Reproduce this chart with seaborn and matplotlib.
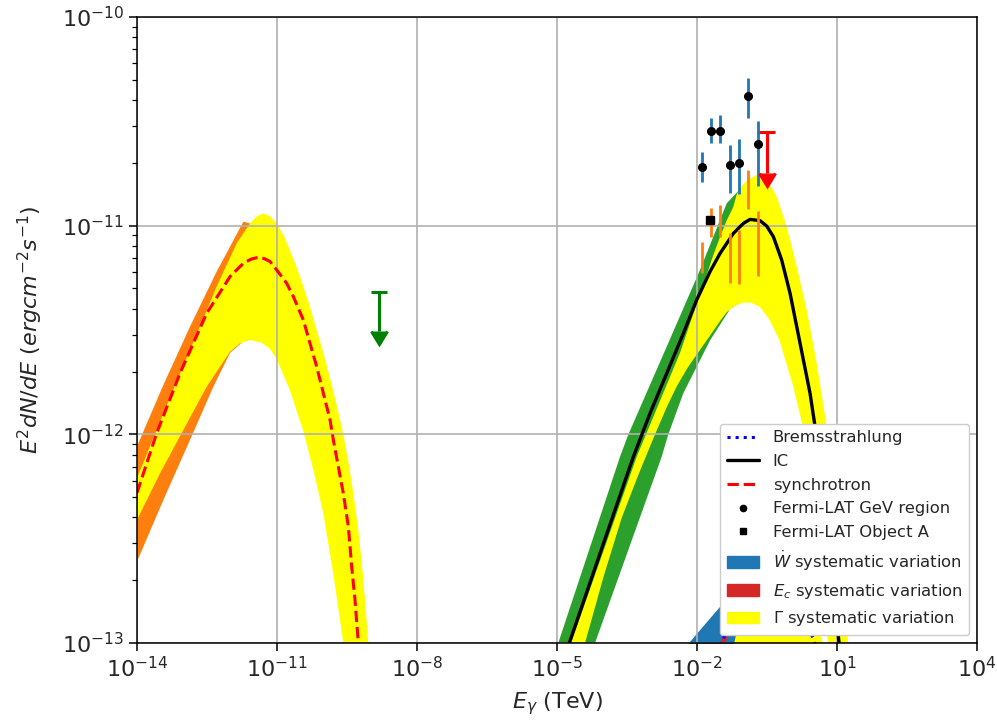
import numpy as np
import matplotlib
matplotlib.use("Agg")
import matplotlib.pyplot as plt
import seaborn as sns
from matplotlib.lines import Line2D
from matplotlib.patches import Patch

# ---------------- data: log10(E / TeV), log10(E^2 dN/dE / erg cm^-2 s^-1) ----------------
# synchrotron model line
sync_line_logE = [-14.0, -13.579, -13.079, -12.507, -12.007, -11.721, -11.55, -11.4, -11.27, -11.15,
                  -11.007, -10.793, -10.65, -10.436, -10.293, -10.15, -10.007, -9.864, -9.793, -9.686,
                  -9.579, -9.471, -9.4, -9.329, -9.257, -9.2]
sync_line_logF = [-12.28, -11.995, -11.708, -11.42, -11.244, -11.18, -11.16, -11.152, -11.158, -11.172,
                  -11.212, -11.276, -11.34, -11.452, -11.564, -11.676, -11.803, -11.931, -12.027, -12.155,
                  -12.283, -12.443, -12.634, -12.794, -13.0, -13.2]
# synchrotron Gamma band edges
sync_g_hi_logE = [-14.0, -13.436, -12.864, -12.293, -11.864, -11.579, -11.43, -11.293, -11.15, -11.007,
                  -10.85, -10.72, -10.579, -10.436, -10.293, -10.15, -10.007, -9.864, -9.72, -9.579,
                  -9.472, -9.365, -9.257, -9.186, -9.115, -9.043, -8.95]
sync_g_hi_logF = [-12.21, -11.899, -11.596, -11.292, -11.085, -10.989, -10.955, -10.941, -10.955, -10.989,
                  -11.05, -11.12, -11.2, -11.29, -11.39, -11.5, -11.61, -11.73, -11.86, -12.0,
                  -12.13, -12.28, -12.46, -12.61, -12.79, -13.0, -13.3]
sync_g_lo_logE = [-14.0, -13.507, -13.007, -12.507, -12.221, -12.007, -11.793, -11.579, -11.329, -11.15,
                  -11.007, -10.721, -10.436, -10.221, -10.007, -9.793, -9.579, -9.5]
sync_g_lo_logF = [-12.41, -12.187, -11.979, -11.772, -11.676, -11.604, -11.564, -11.548, -11.561, -11.59,
                  -11.64, -11.79, -11.985, -12.17, -12.38, -12.67, -13.0, -13.3]
# synchrotron W-dot band edges
sync_w_hi_logE = [-14.0, -13.436, -12.864, -12.293, -12.007, -11.721, -11.4, -11.2]
sync_w_hi_logF = [-12.058, -11.764, -11.484, -11.22, -11.101, -10.981, -11.0, -11.05]
sync_w_lo_logE = [-14.0, -13.436, -12.864, -12.364, -12.007, -11.6, -11.2]
sync_w_lo_logF = [-12.61, -12.315, -12.027, -11.772, -11.61, -11.53, -11.52]

# inverse-Compton model line
ic_line_logE = [-5.0, -4.737, -4.0, -3.364, -3.007, -2.65, -2.293, -2.007, -1.721, -1.507, -1.221,
                -1.007, -0.864, -0.65, -0.507, -0.364, -0.186, -0.007, 0.136, 0.279, 0.421, 0.529,
                0.786, 1.043, 1.15]
ic_line_logF = [-13.17, -13.0, -12.52, -12.107, -11.899, -11.708, -11.516, -11.356, -11.22, -11.133,
                -11.037, -10.989, -10.97, -10.976, -11.002, -11.053, -11.165, -11.324, -11.484, -11.644,
                -11.803, -11.963, -12.458, -13.0, -13.3]
# IC Gamma band edges
ic_g_hi_logE = [-5.0, -4.7, -4.0, -3.292, -2.8, -2.365, -2.0, -1.793, -1.65, -1.5, -1.364, -1.222,
                -1.15, -1.079, -0.936, -0.721, -0.507, -0.293, -0.079, 0.136, 0.35, 0.565, 0.779, 1.0,
                1.236, 1.35]
ic_g_hi_logF = [-13.2, -13.0, -12.556, -12.107, -11.843, -11.61, -11.37, -11.235, -11.14, -11.05, -10.975,
                -10.91, -10.85, -10.818, -10.785, -10.757, -10.781, -10.861, -11.005, -11.196, -11.404,
                -11.66, -11.963, -12.4, -13.0, -13.4]
ic_g_lo_logE = [-4.9, -4.4, -4.0, -3.614, -3.25, -2.9, -2.65, -2.435, -2.2, -1.936, -1.7, -1.5, -1.364,
                -1.2, -1.008, -0.83, -0.651, -0.45, -0.236, 0.063, 0.351, 0.807, 0.9]
ic_g_lo_logF = [-13.4, -13.0, -12.68, -12.4, -12.19, -12.0, -11.87, -11.77, -11.68, -11.595, -11.52,
                -11.455, -11.415, -11.385, -11.368, -11.37, -11.39, -11.45, -11.548, -11.772, -12.041,
                -13.0, -13.3]
# IC W-dot band edges
ic_w_hi_logE = [-5.25, -4.973, -3.65, -3.47, -2.65, -1.936, -1.364, -1.079, -0.9]
ic_w_hi_logF = [-13.17, -13.0, -12.107, -12.0, -11.58, -11.212, -10.893, -10.825, -10.8]
ic_w_lo_logE = [-5.25, -4.186, -2.757, -2.615, -2.294, -1.722, -1.293, -1.1, -0.9]
ic_w_lo_logF = [-13.75, -13.0, -12.107, -12.0, -11.803, -11.55, -11.4, -11.37, -11.36]

# Bremsstrahlung (mostly below the plotted range)
brem_logE = [-2.75, -2.5, -2.19, -2.0, -1.75, -1.5, -1.25, -1.0, -0.5, 0.0, 0.25, 0.5, 0.75, 1.0]
brem_line = [-14.02, -13.82, -13.52, -13.37, -13.19, -13.01, -12.89, -12.82, -12.76, -12.80, -12.88, -12.98, -13.22, -13.52]
brem_wdot_hi = [-13.35, -13.2, -13.0, -12.95, -12.885, -12.82, -12.76, -12.72, -12.70, -12.78, -12.88, -13.02, -13.2, -13.4]
brem_ec_hi = [-14.0, -13.8, -13.5, -13.35, -13.17, -12.99, -12.87, -12.80, -12.74, -12.78, -12.86, -12.96, -13.2, -13.5]
brem_ec_lo = [-14.05, -13.85, -13.55, -13.4, -13.22, -13.04, -12.92, -12.85, -12.79, -12.83, -12.91, -13.01, -13.25, -13.55]
brem_gamma_hi = [-15.0, -15.0, -15.0, -14.5, -14.0, -13.5, -13.03, -12.8, -12.7, -12.7, -12.75, -12.85, -13.05, -13.5]
brem_floor = -15.0

# Fermi-LAT points (E in TeV, flux in erg cm^-2 s^-1)
gev_logE = [-1.9, -1.7, -1.5, -1.3, -1.1, -0.9, -0.7]
gev_F = [1.90e-11, 2.85e-11, 2.85e-11, 1.96e-11, 2.00e-11, 4.18e-11, 2.45e-11]
gev_lo = [1.61e-11, 2.48e-11, 2.48e-11, 1.43e-11, 1.42e-11, 3.27e-11, 1.55e-11]
gev_hi = [2.26e-11, 3.29e-11, 3.39e-11, 2.44e-11, 2.59e-11, 5.10e-11, 3.18e-11]
objA_lo = [5.91e-12, 8.85e-12, 8.79e-12, 5.30e-12, 5.25e-12, 1.20e-11, 5.74e-12]
objA_hi = [8.38e-12, 1.21e-11, 1.26e-11, 9.18e-12, 9.53e-12, 1.85e-11, 1.17e-11]
objA_pt_logE = [-1.72]
objA_pt_F = [1.06e-11]

# upper limits
ul_logE = [-8.81, -0.495]
ul_F = [4.80e-12, 2.80e-11]
ul_len = [1.67e-12, 1.01e-11]
ul_colors = ["green", "red"]

# ---------------- figure ----------------
sns.set_style("ticks")
plt.rcParams["font.family"] = ["DejaVu Sans"]
plt.rcParams["mathtext.fontset"] = "dejavusans"

fig, ax = plt.subplots(figsize=(9.97, 7.22), dpi=100)
fig.subplots_adjust(left=0.1374, right=0.98, top=0.9765, bottom=0.1094)
ax.set_xscale("log")
ax.set_yscale("log")


def p(a):
    return 10.0 ** np.asarray(a, dtype=float)


def band(hi_x, hi_y, lo_x, lo_y, color):
    xs = np.concatenate([p(hi_x), p(lo_x)[::-1]])
    ys = np.concatenate([p(hi_y), p(lo_y)[::-1]])
    ax.fill(xs, ys, color=color, lw=0, zorder=1)


# bands
band(sync_w_hi_logE, sync_w_hi_logF, sync_w_lo_logE, sync_w_lo_logF, "#ff7f0e")
band(sync_g_hi_logE, sync_g_hi_logF, sync_g_lo_logE, sync_g_lo_logF, "#ffff00")
band(ic_w_hi_logE, ic_w_hi_logF, ic_w_lo_logE, ic_w_lo_logF, "#2ca02c")
band(ic_g_hi_logE, ic_g_hi_logF, ic_g_lo_logE, ic_g_lo_logF, "#ffff00")
floor = [brem_floor] * len(brem_logE)
ax.fill_between(p(brem_logE), p(floor), p(brem_wdot_hi), color="#1f77b4", lw=0)
ax.fill_between(p(brem_logE), p(brem_ec_lo), p(brem_ec_hi), color="#d62728", lw=0)
ax.fill_between(p(brem_logE), p(floor), p(brem_gamma_hi), color="#ffff00", lw=0)

# model lines
sns.lineplot(x=p(brem_logE), y=p(brem_line), ax=ax, color="blue", linestyle=":", lw=2.2,
             legend=False, sort=False, estimator=None)
sns.lineplot(x=p(ic_line_logE), y=p(ic_line_logF), ax=ax, color="black", lw=2.4,
             legend=False, sort=False, estimator=None)
sns.lineplot(x=p(sync_line_logE), y=p(sync_line_logF), ax=ax, color="red", linestyle="--", lw=2.2,
             legend=False, sort=False, estimator=None)

# data
gE = p(gev_logE)
gF = np.array(gev_F)
ax.errorbar(gE, gF, yerr=[gF - np.array(gev_lo), np.array(gev_hi) - gF], fmt="o", color="black",
            ecolor="#1f77b4", elinewidth=2, ms=5.5, zorder=3)
ax.vlines(gE, objA_lo, objA_hi, color="#ff7f0e", lw=2, zorder=3)
ax.plot(p(objA_pt_logE), objA_pt_F, "s", color="black", ms=5.5, zorder=3)

for e, f, l, c in zip(ul_logE, ul_F, ul_len, ul_colors):
    ax.errorbar([10 ** e], [f], yerr=[l], uplims=True, color=c, elinewidth=2.2, capsize=6,
                capthick=2.2, fmt="none", zorder=3)

ax.set_xlim(1e-14, 1e4)
ax.set_ylim(1e-13, 1e-10)
ax.grid(True, which="major", color="#b0b0b0", lw=1.2)
ax.set_axisbelow("line")
for s in ax.spines.values():
    s.set_linewidth(1.1)
    s.set_color("black")
ax.tick_params(which="major", length=6, width=1.1, labelsize=16, direction="out", color="black")
ax.tick_params(which="minor", length=3.5, width=0.9, direction="out", color="black")
ax.set_xlabel(r"$E_{\gamma}$ (TeV)", fontsize=16, labelpad=6)
ax.set_ylabel(r"$E^2dN/dE\ (ergcm^{-2}s^{-1})$", fontsize=16, labelpad=12)

handles = [
    Line2D([], [], color="blue", ls=":", lw=2.2),
    Line2D([], [], color="black", lw=2.4),
    Line2D([], [], color="red", ls="--", lw=2.2),
    Line2D([], [], color="black", marker="o", ls="none", ms=4.5),
    Line2D([], [], color="black", marker="s", ls="none", ms=4.5),
    Patch(color="#1f77b4"),
    Patch(color="#d62728"),
    Patch(color="#ffff00"),
]
labels = ["Bremsstrahlung", "IC", "synchrotron", "Fermi-LAT GeV region", "Fermi-LAT Object A",
          r"$\dot{W}$ systematic variation", r"$E_c$ systematic variation", r"$\Gamma$ systematic variation"]
leg = ax.legend(handles, labels, loc="lower right", fontsize=11.8, labelspacing=0.53, framealpha=1.0,
                fancybox=True, edgecolor="0.8")
leg.set_zorder(10)

fig.savefig("out.png", dpi=100)
